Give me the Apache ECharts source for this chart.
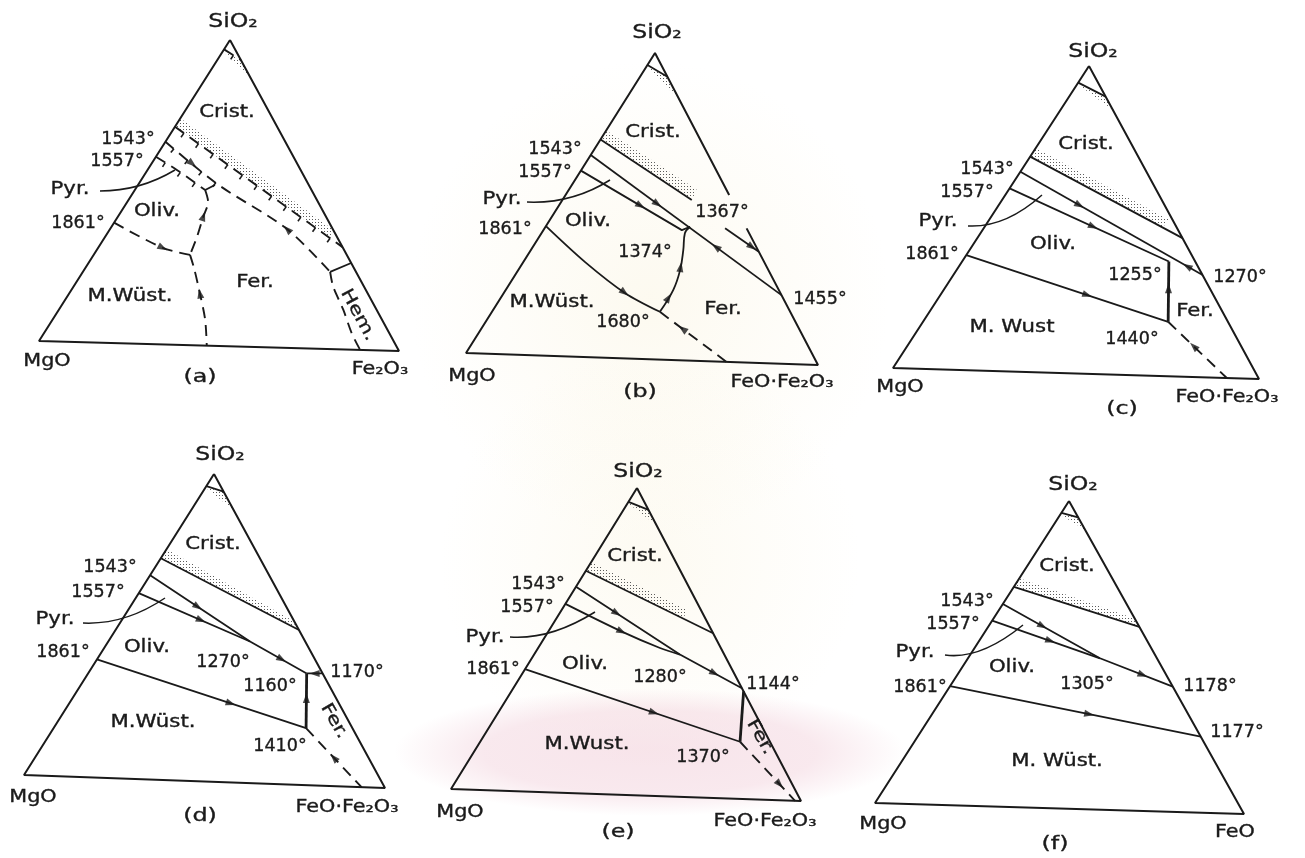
<!DOCTYPE html>
<html>
<head>
<meta charset="utf-8">
<title>MgO–FeO–Fe2O3–SiO2 liquidus sections</title>
<script src="https://cdn.jsdelivr.net/npm/echarts@6.0.0/dist/echarts.min.js"></script>
<style>
html, body { margin: 0; padding: 0; background: #ffffff; }
#chart { width: 1305px; height: 858px; }
</style>
</head>
<body>
<div id="chart"></div>
<script>
// Boundary curves. Every point is a composition [SiO2 %, third oxide %]; MgO is the remainder.

// (a) MgO – Fe2O3 – SiO2
const A_LIQ_UPPER = [[96.9, 0], [93.6, 6.4]];
const A_LIQ_LOWER = [[71.2, 0], [33.4, 66.6]];
const A_B1543 = [[66.2, 0], [52.9, 21.4], [38.8, 48.3], [25.2, 67.5]];
const A_B1557 = [[61.2, 0], [57.1, 8.0], [50.8, 19.2]];
const A_PYR_FER = [[50.8, 19.2], [52.9, 21.4]];
const A_OLIV_FER = [[50.8, 19.2], [46.9, 22.1], [42.1, 23.3], [35.4, 25.1], [29.5, 26.3]];
const A_B1861 = [[39.3, 0], [31.5, 17.7], [29.5, 26.3]];
const A_MW_FER = [[29.5, 26.3], [25.2, 29.7], [17.1, 35.6], [8.4, 41.7], [0, 46.6]];
const A_FER_HEM = [[25.2, 67.5], [20.4, 70.9], [12.9, 77.7], [5.4, 84.0], [0, 89.2]];
const A_CRIST_HEM = [[25.2, 67.5], [28.3, 71.7]];
const A_TWO_LIQ = [[[96.3, 0], [93.6, 6.4], [87.1, 12.9]], [[71.2, 0], [36.2, 61.7], [39.0, 61.0], [74.0, 0]]];

// (b) MgO – FeO·Fe2O3 – SiO2
const B_LIQ_UPPER = [[96.0, 0], [92.4, 7.6]];
const B_LIQ_LOWER = [[71.2, 0], [52.4, 36.0]];
const B_B1543 = [[66.0, 0], [22.4, 77.6]];
const B_B1557 = [[60.8, 0], [42.5, 38.5], [43.7, 40.2]];
const B_B1374 = [[43.7, 40.2], [41.5, 39.9], [36.0, 42.4], [29.5, 45.0], [22.9, 46.6], [15.6, 46.7]];
const B_B1861 = [[42.3, 0], [31.0, 17.2], [21.3, 33.8], [15.6, 46.7]];
const B_B1680 = [[15.6, 46.7], [0, 74.0]];
const B_B1367 = [[43.6, 50.2], [36.3, 63.7]];
const B_TWO_LIQ = [[[95.5, 0], [92.4, 7.6], [85.0, 15.0]], [[71.2, 0], [52.4, 36.0], [55.9, 35.5], [74.2, 0]]];

// (c) MgO – FeO·Fe2O3 – SiO2
const C_LIQ_UPPER = [[94.5, 0], [90.2, 9.8]];
const C_LIQ_LOWER = [[70.0, 0], [45.0, 55.0]];
const C_B1543 = [[65.0, 0], [33.2, 66.8]];
const C_B1557 = [[59.5, 0], [37.3, 55.4]];
const C_B1255 = [[37.3, 55.4], [17.7, 65.7]];
const C_B1861 = [[37.4, 0], [17.7, 65.7]];
const C_B1440 = [[17.7, 65.7], [0, 91.2]];
const C_TWO_LIQ = [[[94.0, 0], [90.2, 9.8], [86.0, 14.0]], [[70.0, 0], [48.3, 47.9], [51.0, 47.9], [72.8, 0]]];

// (d) MgO – FeO·Fe2O3 – SiO2
const D_LIQ_UPPER = [[96.0, 0], [94.4, 5.6]];
const D_LIQ_LOWER = [[72.0, 0], [50.3, 49.7]];
const D_B1543 = [[66.4, 0], [46.0, 38.4], [36.3, 59.2]];
const D_B1557 = [[60.4, 0], [46.0, 38.4]];
const D_B1170 = [[36.3, 59.2], [36.5, 63.5]];
const D_B1160 = [[36.3, 59.2], [18.5, 68.4]];
const D_B1861 = [[38.4, 0], [18.5, 68.4]];
const D_B1410 = [[18.5, 68.4], [0, 93.5]];
const D_TWO_LIQ = [[[95.5, 0], [94.4, 5.6], [88.5, 11.5]], [[72.0, 0], [50.9, 48.2], [53.0, 47.0], [75.0, 0]]];

// (e) MgO – FeO·Fe2O3 – SiO2
const E_LIQ_UPPER = [[95.4, 0], [93.0, 7.0]];
const E_LIQ_LOWER = [[72.5, 0], [53.6, 46.4]];
const E_B1543 = [[67.2, 0], [46.3, 40.8], [36.0, 64.0]];
const E_B1557 = [[61.5, 0], [53.1, 20.6], [48.2, 34.1], [46.3, 40.8]];
const E_B1144 = [[35.0, 65.0], [18.6, 72.7]];
const E_B1861 = [[39.8, 0], [18.6, 72.7]];
const E_B1370 = [[18.6, 72.7], [0, 98.3]];
const E_TWO_LIQ = [[[95.0, 0], [93.0, 7.0], [88.2, 11.8]], [[72.5, 0], [58.1, 35.4], [60.7, 35.4], [75.3, 0]]];

// (f) MgO – FeO – SiO2
const F_LIQ_UPPER = [[96.1, 0], [94.8, 5.2]];
const F_LIQ_LOWER = [[71.6, 0], [59.8, 40.2]];
const F_B1543 = [[65.9, 0], [49.2, 35.1], [40.7, 59.3]];
const F_B1557 = [[60.4, 0], [49.2, 35.1]];
const F_B1861 = [[38.7, 0], [24.7, 75.3]];
const F_TWO_LIQ = [[[95.5, 0], [94.8, 5.2], [90.7, 9.3]], [[71.6, 0], [60.2, 39.0], [62.5, 37.5], [74.4, 0]]];

// Triangle sides (apex, MgO corner, third corner); side (b) is broken by the 1367° label
const SIDES_CLOSED = [[100, 0], [0, 0], [0, 100], [100, 0]];
const B_SIDES = [[54.5, 45.5], [100, 0], [0, 0], [0, 100], [43.8, 56.2]];

// ---- Layout: corner positions of each triangle on the page ----
const PANEL_LAYOUT = {
  a: { apex: [230, 40],  mgo: [39, 341],  third: [399, 351] },
  b: { apex: [655, 53],  mgo: [466, 353], third: [818, 365] },
  c: { apex: [1089, 66], mgo: [893, 368], third: [1259, 379] },
  d: { apex: [214, 474], mgo: [24, 775],  third: [385, 788] },
  e: { apex: [637, 488], mgo: [451, 789], third: [801, 801] },
  f: { apex: [1069, 501], mgo: [875, 803], third: [1244, 814] }
};

// composition -> plot coordinates of the panel
function toPlot(panel, c) {
  const L = PANEL_LAYOUT[panel];
  const s = c[0] / 100, r = c[1] / 100, m = 1 - s - r;
  return [
    L.mgo[0] * m + L.third[0] * r + L.apex[0] * s,
    L.mgo[1] * m + L.third[1] * r + L.apex[1] * s
  ];
}

const LINES = [
  ['a', SIDES_CLOSED, 'side'],
  ['a', A_LIQ_UPPER, 'tick'],
  ['a', A_LIQ_LOWER, 'tick'],
  ['a', A_B1543, 'tick', { smooth: 0.3, tickTo: 0.32 }],
  ['a', A_B1557, 'tick', { smooth: 0.3 }],
  ['a', A_PYR_FER, 'dash'],
  ['a', A_OLIV_FER, 'dash', { smooth: 0.3 }],
  ['a', A_B1861, 'dash', { smooth: 0.3 }],
  ['a', A_MW_FER, 'dash', { smooth: 0.3 }],
  ['a', A_FER_HEM, 'dash', { smooth: 0.3 }],
  ['a', A_CRIST_HEM, 'solid'],

  ['b', B_SIDES, 'side'],
  ['b', B_LIQ_UPPER, 'solid'],
  ['b', B_LIQ_LOWER, 'solid'],
  ['b', B_B1543, 'solid'],
  ['b', B_B1557, 'solid'],
  ['b', B_B1374, 'solid', { smooth: 0.4 }],
  ['b', B_B1861, 'solid', { smooth: 0.3 }],
  ['b', B_B1680, 'dash'],
  ['b', B_B1367, 'solid'],

  ['c', SIDES_CLOSED, 'side'],
  ['c', C_LIQ_UPPER, 'solid'],
  ['c', C_LIQ_LOWER, 'solid'],
  ['c', C_B1543, 'solid'],
  ['c', C_B1557, 'solid'],
  ['c', C_B1255, 'bold'],
  ['c', C_B1861, 'solid'],
  ['c', C_B1440, 'dash'],

  ['d', SIDES_CLOSED, 'side'],
  ['d', D_LIQ_UPPER, 'solid'],
  ['d', D_LIQ_LOWER, 'solid'],
  ['d', D_B1543, 'solid'],
  ['d', D_B1557, 'solid'],
  ['d', D_B1170, 'solid'],
  ['d', D_B1160, 'bold'],
  ['d', D_B1861, 'solid'],
  ['d', D_B1410, 'dash'],

  ['e', SIDES_CLOSED, 'side'],
  ['e', E_LIQ_UPPER, 'solid'],
  ['e', E_LIQ_LOWER, 'solid'],
  ['e', E_B1543, 'solid'],
  ['e', E_B1557, 'solid', { smooth: 0.3 }],
  ['e', E_B1144, 'bold'],
  ['e', E_B1861, 'solid'],
  ['e', E_B1370, 'dash'],

  ['f', SIDES_CLOSED, 'side'],
  ['f', F_LIQ_UPPER, 'solid'],
  ['f', F_LIQ_LOWER, 'solid'],
  ['f', F_B1543, 'solid'],
  ['f', F_B1557, 'solid'],
  ['f', F_B1861, 'solid']
];

const TWO_LIQUID = [
  ['a', A_TWO_LIQ], ['b', B_TWO_LIQ], ['c', C_TWO_LIQ],
  ['d', D_TWO_LIQ], ['e', E_TWO_LIQ], ['f', F_TWO_LIQ]
];

// Arrows show falling temperature: [panel, curve, fraction along curve, direction]
const ARROWS = [
  ['a', A_B1543, 0.165, 1], ['a', A_B1543, 0.713, -1], ['a', A_OLIV_FER, 0.4, -1],
  ['a', A_B1861, 0.66, 1], ['a', A_MW_FER, 0.43, -1],
  ['b', B_B1543, 0.35, 1], ['b', B_B1543, 0.656, -1], ['b', B_B1557, 0.55, 1],
  ['b', B_B1374, 0.46, -1], ['b', B_B1374, 0.82, -1], ['b', B_B1861, 0.72, 1],
  ['b', B_B1680, 0.34, -1], ['b', B_B1367, 0.8, 1],
  ['c', C_B1543, 0.325, 1], ['c', C_B1543, 0.915, -1], ['c', C_B1557, 0.525, 1],
  ['c', C_B1255, 0.445, -1], ['c', C_B1861, 0.6, 1], ['c', C_B1440, 0.435, -1],
  ['d', D_B1543, 0.31, 1], ['d', D_B1543, 0.845, 1], ['d', D_B1557, 0.56, 1],
  ['d', D_B1160, 0.45, -1], ['d', D_B1861, 0.64, 1], ['d', D_B1170, 0.5, -1], ['d', D_B1410, 0.5, -1],
  ['e', E_B1543, 0.25, 1], ['e', E_B1543, 0.84, 1], ['e', E_B1557, 0.5, 1],
  ['e', E_B1861, 0.6, 1], ['e', E_B1370, 0.72, 1],
  ['f', F_B1543, 0.24, 1], ['f', F_B1543, 0.83, 1], ['f', F_B1557, 0.54, 1], ['f', F_B1861, 0.555, 1]
];

// Text annotations: [x, y, text, kind, rotation in degrees]
const TEXTS = [
  [233, 22, 'SiO₂', 'apex'], [227, 113, 'Crist.', 'field'], [128, 140, '1543°', 'temp'],
  [117, 162, '1557°', 'temp'], [70, 190, 'Pyr.', 'field'], [157, 212, 'Oliv.', 'field'],
  [78, 224, '1861°', 'temp'], [130, 297, 'M.Wüst.', 'field'], [255, 283, 'Fer.', 'field'],
  [358, 315, 'Hem.', 'field', -61.5], [47, 362, 'MgO', 'corner'], [380, 370, 'Fe₂O₃', 'corner'],
  [200, 378, '(a)', 'tag'],

  [657, 33, 'SiO₂', 'apex'], [653, 133, 'Crist.', 'field'], [555, 150, '1543°', 'temp'],
  [545, 173, '1557°', 'temp'], [502, 200, 'Pyr.', 'field'], [505, 230, '1861°', 'temp'],
  [588, 222, 'Oliv.', 'field'], [722, 213, '1367°', 'temp'], [645, 253, '1374°', 'temp'],
  [552, 303, 'M.Wüst.', 'field'], [623, 323, '1680°', 'temp'], [723, 310, 'Fer.', 'field'],
  [820, 300, '1455°', 'temp'], [472, 377, 'MgO', 'corner'], [782, 383, 'FeO·Fe₂O₃', 'corner'],
  [640, 393, '(b)', 'tag'],

  [1093, 52, 'SiO₂', 'apex'], [1086, 145, 'Crist.', 'field'], [987, 170, '1543°', 'temp'],
  [967, 193, '1557°', 'temp'], [938, 222, 'Pyr.', 'field'], [932, 255, '1861°', 'temp'],
  [1053, 245, 'Oliv.', 'field'], [1135, 276, '1255°', 'temp'], [1240, 278, '1270°', 'temp'],
  [1195, 312, 'Fer.', 'field'], [1012, 328, 'M. Wust', 'field'], [1132, 340, '1440°', 'temp'],
  [900, 388, 'MgO', 'corner'], [1227, 398, 'FeO·Fe₂O₃', 'corner'], [1122, 410, '(c)', 'tag'],

  [220, 455, 'SiO₂', 'apex'], [213, 545, 'Crist.', 'field'], [110, 568, '1543°', 'temp'],
  [98, 593, '1557°', 'temp'], [55, 620, 'Pyr.', 'field'], [63, 653, '1861°', 'temp'],
  [147, 648, 'Oliv.', 'field'], [223, 663, '1270°', 'temp'], [270, 687, '1160°', 'temp'],
  [357, 673, '1170°', 'temp'], [153, 723, 'M.Wüst.', 'field'], [280, 747, '1410°', 'temp'],
  [334, 721, 'Fer.', 'field', -60], [33, 798, 'MgO', 'corner'], [347, 808, 'FeO·Fe₂O₃', 'corner'],
  [200, 817, '(d)', 'tag'],

  [638, 472, 'SiO₂', 'apex'], [635, 557, 'Crist.', 'field'], [538, 585, '1543°', 'temp'],
  [527, 608, '1557°', 'temp'], [485, 638, 'Pyr.', 'field'], [493, 670, '1861°', 'temp'],
  [585, 665, 'Oliv.', 'field'], [660, 678, '1280°', 'temp'], [773, 685, '1144°', 'temp'],
  [587, 745, 'M.Wust.', 'field'], [703, 758, '1370°', 'temp'], [760, 737, 'Fer.', 'field', -60],
  [460, 813, 'MgO', 'corner'], [765, 822, 'FeO·Fe₂O₃', 'corner'], [618, 833, '(e)', 'tag'],

  [1073, 485, 'SiO₂', 'apex'], [1067, 567, 'Crist.', 'field'], [967, 602, '1543°', 'temp'],
  [953, 625, '1557°', 'temp'], [915, 653, 'Pyr.', 'field'], [920, 688, '1861°', 'temp'],
  [1012, 668, 'Oliv.', 'field'], [1087, 685, '1305°', 'temp'], [1210, 687, '1178°', 'temp'],
  [1237, 733, '1177°', 'temp'], [1057, 762, 'M. Wüst.', 'field'], [883, 825, 'MgO', 'corner'],
  [1235, 833, 'FeO', 'corner'], [1055, 845, '(f)', 'tag']
];

// Leader curves from the "Pyr." labels into the narrow pyroxene field: [x1, y1, cx, cy, x2, y2]
const LEADERS = [
  [100, 191, 140, 191, 175, 170],
  [527, 202, 572, 204, 610, 180],
  [968, 226, 1005, 228, 1042, 195],
  [83, 623, 125, 625, 165, 598],
  [510, 637, 550, 640, 595, 612],
  [945, 655, 980, 660, 1023, 625]
];

const INK = '#1a1a1a';
const STYLE = {
  side:  { width: 2.0, type: 'solid' },
  solid: { width: 1.8, type: 'solid' },
  bold:  { width: 2.8, type: 'solid' },
  dash:  { width: 1.9, type: [11, 7] },
  tick:  { width: 1.9, type: [11, 7] }
};
const FONTS = {
  apex:   { size: 20, sx: 1.18 },
  corner: { size: 17, sx: 1.22 },
  field:  { size: 17, sx: 1.25 },
  temp:   { size: 17, sx: 1.03 },
  tag:    { size: 17, sx: 1.4 }
};

// ---- geometry helpers on plot coordinates ----
function polyInfo(pts) {
  const cum = [0];
  for (let i = 1; i < pts.length; i++) {
    cum.push(cum[i - 1] + Math.hypot(pts[i][0] - pts[i - 1][0], pts[i][1] - pts[i - 1][1]));
  }
  return cum;
}
function pointAt(pts, dist) {
  const cum = polyInfo(pts);
  let i = 1;
  while (i < pts.length - 1 && cum[i] < dist) i++;
  const a = pts[i - 1], b = pts[i];
  const len = cum[i] - cum[i - 1] || 1;
  const t = Math.max(0, Math.min(1, (dist - cum[i - 1]) / len));
  return { p: [a[0] + (b[0] - a[0]) * t, a[1] + (b[1] - a[1]) * t], u: [(b[0] - a[0]) / len, (b[1] - a[1]) / len] };
}

// dotted fill used for the two-liquid bands
const dotCanvas = document.createElement('canvas');
dotCanvas.width = 3; dotCanvas.height = 3;
const dctx = dotCanvas.getContext('2d');
dctx.fillStyle = 'rgba(50,50,50,0.8)';
dctx.fillRect(0, 0, 1, 1);
const DOTS = { image: dotCanvas, repeat: 'repeat' };

const series = [];

// two-liquid (stippled) bands
const stipplePolys = [];
TWO_LIQUID.forEach(([p, polys]) => polys.forEach(poly => stipplePolys.push(poly.map(c => toPlot(p, c)))));
series.push({
  type: 'custom', coordinateSystem: 'cartesian2d', silent: true, z: 1,
  data: stipplePolys.map(poly => poly[0]),
  renderItem: (params, api) => ({
    type: 'polygon',
    shape: { points: stipplePolys[params.dataIndex].map(pt => api.coord(pt)) },
    style: { fill: DOTS, stroke: null }
  })
});

// boundary curves and triangle sides
const tickMarks = [];
LINES.forEach(([p, comps, kind, opt]) => {
  opt = opt || {};
  const pts = comps.map(c => toPlot(p, c));
  const st = STYLE[kind];
  series.push({
    type: 'line', coordinateSystem: 'cartesian2d', data: pts,
    symbol: 'none', showSymbol: false, silent: true, z: 2,
    smooth: opt.smooth || false,
    lineStyle: { color: INK, width: st.width, type: st.type, cap: 'butt' }
  });
  if (kind === 'tick') {
    const cum = polyInfo(pts);
    const total = cum[cum.length - 1] * (opt.tickTo || 1);
    for (let d = 11; d <= total; d += 18) {
      const q = pointAt(pts, d);
      let n = [-q.u[1], q.u[0]];
      if (n[1] < 0) n = [-n[0], -n[1]];
      tickMarks.push([q.p[0], q.p[1], n[0], n[1]]);
    }
  }
});

// short cross ticks on the dashed curves of panel (a)
series.push({
  type: 'custom', coordinateSystem: 'cartesian2d', silent: true, z: 2,
  data: tickMarks,
  renderItem: (params, api) => {
    const x = api.value(0), y = api.value(1), nx = api.value(2), ny = api.value(3);
    const a = api.coord([x, y]);
    const b = api.coord([x + nx * 5, y + ny * 5]);
    return { type: 'line', shape: { x1: a[0], y1: a[1], x2: b[0], y2: b[1] }, style: { stroke: INK, lineWidth: 1.6 } };
  }
});

// arrowheads
series.push({
  type: 'scatter', coordinateSystem: 'cartesian2d', silent: true, z: 3,
  symbol: 'triangle', symbolSize: [7, 10],
  itemStyle: { color: INK },
  data: ARROWS.map(([p, comps, at, dir]) => {
    const pts = comps.map(c => toPlot(p, c));
    const cum = polyInfo(pts);
    const q = pointAt(pts, cum[cum.length - 1] * at);
    const dx = q.u[0] * dir, dy = q.u[1] * dir;
    const deg = Math.atan2(-dy, dx) * 180 / Math.PI - 90;
    return { value: q.p, symbolRotate: deg };
  })
});

// faint paper watermark
const graphics = [
  { type: 'circle', shape: { cx: 650, cy: 300, r: 240 }, silent: true, z: -2,
    style: { fill: { type: 'radial', x: 0.5, y: 0.5, r: 0.5, colorStops: [
      { offset: 0, color: 'rgba(247,236,200,0.28)' }, { offset: 1, color: 'rgba(247,236,200,0)' }] } } },
  { type: 'circle', shape: { cx: 650, cy: 560, r: 210 }, silent: true, z: -2,
    style: { fill: { type: 'radial', x: 0.5, y: 0.5, r: 0.5, colorStops: [
      { offset: 0, color: 'rgba(247,236,200,0.24)' }, { offset: 1, color: 'rgba(247,236,200,0)' }] } } },
  { type: 'circle', x: 650, y: 752, scaleX: 4, scaleY: 1, shape: { cx: 0, cy: 0, r: 64 }, silent: true, z: -1,
    style: { fill: { type: 'radial', x: 0.5, y: 0.5, r: 0.5, colorStops: [
      { offset: 0, color: 'rgba(240,202,214,0.5)' }, { offset: 0.65, color: 'rgba(240,202,214,0.42)' },
      { offset: 1, color: 'rgba(240,202,214,0)' }] } } }
];

LEADERS.forEach(([x1, y1, cx, cy, x2, y2]) => {
  graphics.push({
    type: 'bezierCurve', silent: true, z: 4,
    shape: { x1, y1, x2, y2, cpx1: cx, cpy1: cy },
    style: { stroke: INK, lineWidth: 1.5, fill: null }
  });
});

TEXTS.forEach(([x, y, text, kind, rot]) => {
  const f = FONTS[kind];
  graphics.push({
    type: 'text', x, y, silent: true, z: 5,
    scaleX: f.sx, scaleY: 1,
    rotation: (rot || 0) * Math.PI / 180,
    style: {
      text, x: 0, y: 0,
      font: 'normal ' + f.size + 'px "DejaVu Sans", sans-serif',
      fill: INK, stroke: INK, lineWidth: 0.35,
      align: 'center', verticalAlign: 'middle',
      textAlign: 'center', textVerticalAlign: 'middle'
    }
  });
});

const chart = echarts.init(document.getElementById('chart'), null, { renderer: 'canvas' });
chart.setOption({
  backgroundColor: '#ffffff',
  animation: false,
  grid: { left: 0, right: 0, top: 0, bottom: 0, containLabel: false },
  xAxis: { type: 'value', min: 0, max: 1305, show: false },
  yAxis: { type: 'value', min: 0, max: 858, inverse: true, show: false },
  series,
  graphic: { elements: graphics }
});
</script>
</body>
</html>
